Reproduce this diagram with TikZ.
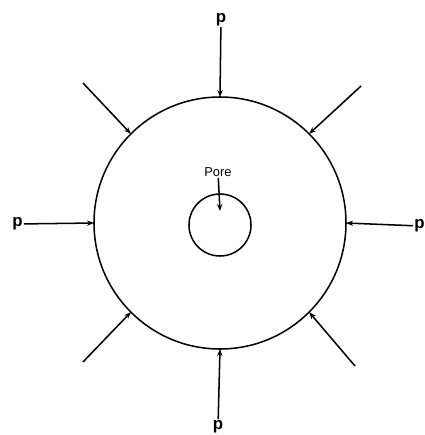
\documentclass[tikz,border=0pt]{standalone}
\usepackage{fontspec}
\setmainfont{Liberation Sans}
\usetikzlibrary{arrows.meta,positioning}

\begin{document}
\begin{tikzpicture}[x=0.03cm,y=-0.03cm,
			wall/.style={circle,draw,line width=1.3pt,inner sep=0pt,outer sep=0pt},
			load/.style={-{Stealth[length=6pt,width=4.5pt]},line width=1.3pt},
			lbl/.style={font=\Large\bfseries,inner sep=1pt}
			]
			\useasboundingbox (0,0) rectangle (425,435);
			\node[wall,minimum size=7.56cm] (grain) at (220,223) {};
			\node[wall,minimum size=1.86cm] (pore) at (220,225) {};
			% pressure on the outer wall
			\node[lbl,anchor=south] (pn) at (221,27) {p};
			\node[lbl,anchor=north] (ps) at (218,419) {p};
			\node[lbl,anchor=east] (pw) at (24,224) {p};
			\node[lbl,anchor=west] (pe) at (413,226) {p};
			\draw[load] (pn) -- (grain.north);
			\draw[load] (ps) -- (grain.south);
			\draw[load] (pw) -- (grain.west);
			\draw[load] (pe) -- (grain.east);
			\coordinate (nw) at (83,83);
			\coordinate (ne) at (361,86);
			\coordinate (sw) at (83,362);
			\coordinate (se) at (355,366);
			\draw[load] (nw) -- (grain.135);
			\draw[load] (ne) -- (grain.45);
			\draw[load] (sw) -- (grain.225);
			\draw[load] (se) -- (grain.-45);
			% pore
			\node[font=\fontsize{11}{13}\selectfont,inner sep=1pt] (pl) at (218,172) {Pore};
			\coordinate (pt) at (220,211);
			\draw[load] (pl) -- (pt);
		\end{tikzpicture}
\end{document}
